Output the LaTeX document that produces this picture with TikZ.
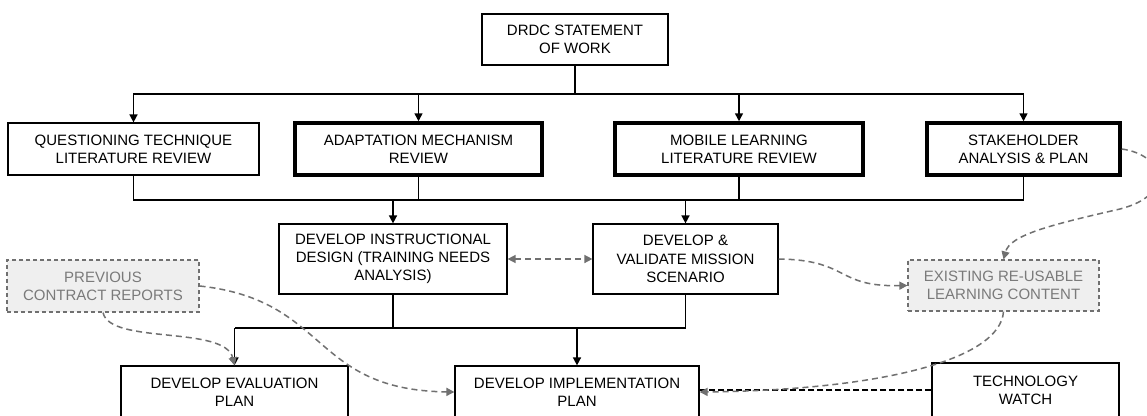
\documentclass[tikz,border=0pt]{standalone}
\usepackage{fontspec}
\setmainfont{Liberation Sans}
\usetikzlibrary{arrows.meta}
\definecolor{dgray}{HTML}{707070}
\definecolor{lgfill}{HTML}{EFEFEF}
\definecolor{gtext}{HTML}{7A7A7A}
\tikzset{
  box/.style={draw=black, line width=1.2pt, fill=white, align=center, inner sep=0pt,
    font=\fontsize{15}{18.3}\selectfont},
  thickbox/.style={box, line width=3.5pt},
  graybox/.style={box, draw=dgray, fill=lgfill, text=gtext, dashed, dash pattern=on 4pt off 3pt},
  conn/.style={draw=black, line width=1.5pt},
  arr/.style={conn, -{Triangle[length=8pt,width=8pt]}},
  garr/.style={draw=dgray, line width=1.5pt, dash pattern=on 6pt off 4pt,
    -{Triangle[length=8pt,width=8pt]}},
  gdarr/.style={garr, {Triangle[length=8pt,width=8pt]}-{Triangle[length=8pt,width=8pt]}},
  bdash/.style={draw=black, line width=1.5pt, dash pattern=on 6pt off 3pt}
}
\begin{document}
\begin{tikzpicture}[x=1pt,y=-1pt]
\useasboundingbox (0,0) rectangle (1147,415);
\clip (0,0) rectangle (1147,415);
\fill[white] (0,0) rectangle (1147,415);

% nodes
\node[box, minimum width=186pt, minimum height=51pt] (drdc) at (575,39.5) {DRDC STATEMENT\\OF WORK};
\node[box, minimum width=251pt, minimum height=52pt] (quest) at (133.5,149) {QUESTIONING TECHNIQUE\\LITERATURE REVIEW};
\node[thickbox, minimum width=247pt, minimum height=52pt] (adapt) at (418.5,149) {ADAPTATION MECHANISM\\REVIEW};
\node[thickbox, minimum width=248pt, minimum height=52pt] (mobile) at (739,149) {MOBILE LEARNING\\LITERATURE REVIEW};
\node[thickbox, minimum width=193pt, minimum height=52pt] (stake) at (1023.5,149) {STAKEHOLDER\\ANALYSIS \& PLAN};
\node[box, minimum width=228pt, minimum height=70pt] (instr) at (393,259) {DEVELOP INSTRUCTIONAL\\DESIGN (TRAINING NEEDS\\ANALYSIS)};
\node[box, minimum width=185pt, minimum height=70pt] (scen) at (685.5,259) {DEVELOP \&\\VALIDATE MISSION\\SCENARIO};
\node[graybox, minimum width=192pt, minimum height=52pt] (prev) at (103,286) {PREVIOUS\\CONTRACT REPORTS};
\node[graybox, minimum width=191pt, minimum height=51pt] (exist) at (1003.5,285.5) {EXISTING RE-USABLE\\LEARNING CONTENT};
\node[box, minimum width=227pt, minimum height=52pt] (eval) at (234.5,392) {DEVELOP EVALUATION\\PLAN};
\node[box, minimum width=244pt, minimum height=52pt] (impl) at (577,392) {DEVELOP IMPLEMENTATION\\PLAN};
\node[box, minimum width=187pt, minimum height=54pt] (tech) at (1025.5,390) {TECHNOLOGY\\WATCH};

% junctions
\coordinate (j1) at (575,94);
\coordinate (j2) at (560,200);
\coordinate (j3) at (450,328);

% solid connectors
\draw[conn] (drdc.south) -- (j1);
\draw[arr] (j1) -| (quest.north);
\draw[arr] (j1) -| (adapt.north);
\draw[arr] (j1) -| (mobile.north);
\draw[arr] (j1) -| (stake.north);

\draw[conn] (quest.south) |- (j2) -| (stake.south);
\draw[conn] (adapt.south) -- (adapt.south |- j2);
\draw[conn] (mobile.south) -- (mobile.south |- j2);
\draw[arr] (instr.north |- j2) -- (instr.north);
\draw[arr] (scen.north |- j2) -- (scen.north);

\draw[conn] (instr.south) -- (instr.south |- j3);
\draw[conn] (scen.south) |- (eval.north |- j3);
\draw[arr] (eval.north |- j3) -- (eval.north);
\draw[arr] (impl.north |- j3) -- (impl.north);

% dashed connectors
\draw[gdarr] (instr.east) -- (scen.west);
\draw[garr] (scen.east) .. controls (850,260) and (835,287) .. (exist.west);
\draw[garr] (stake.east) .. controls (1165,155) and (1175,195) .. (1120,209)
  .. controls (1050,225) and (1010,235) .. (exist.north);
\draw[garr] (prev.south) .. controls (110,345) and (225,325) .. (eval.north);
\draw[garr] (prev.east) .. controls (330,300) and (310,390) .. (impl.west);
\draw[bdash] (tech.west) -- (tech.west -| impl.east);
\draw[garr] (exist.south) .. controls (1000,360) and (880,390) .. (impl.east);
\end{tikzpicture}
\end{document}
